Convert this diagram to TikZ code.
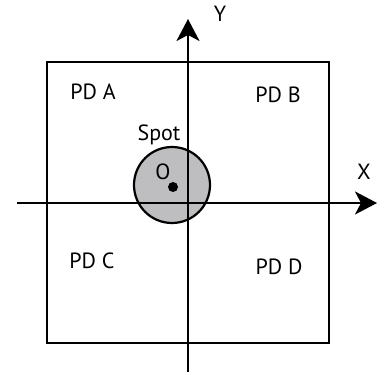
\documentclass[tikz,border=0pt]{standalone}
\usepackage{fontspec}
\setmainfont{PT Sans}
\usetikzlibrary{arrows.meta}
\begin{document}
\begin{tikzpicture}[x=1pt,y=-1pt,
  lbl/.style={font=\fontsize{22}{26}\selectfont, inner sep=0pt},
  axis/.style={line width=2.2pt, -{Stealth[length=22pt,width=23pt,inset=6pt]}},
  frame/.style={draw, line width=2.2pt}]
\useasboundingbox (0,0) rectangle (384,374);
% spot
\node (spot) [circle, draw, line width=2.2pt, fill={rgb,255:red,190;green,190;blue,193}, minimum size=76pt, inner sep=0pt] at (172,185) {};
\node (dot) [circle, fill=black, minimum size=10pt, inner sep=0pt] at (173,187) {};
% frame
\draw[frame] (47,62) rectangle (329,343);
% axes
\coordinate (xs) at (17,203);
\coordinate (xe) at (377,203);
\coordinate (ys) at (188,372);
\coordinate (ye) at (188,19);
\draw[axis] (xs) -- (xe);
\draw[axis] (ys) -- (ye);
% labels
\node[lbl] (Y) at (220,14) {Y};
\node[lbl] (X) at (364,172) {X};
\node[lbl] (pda) at (93,92) {PD A};
\node[lbl] (pdb) at (278,95) {PD B};
\node[lbl] (pdc) at (92,261) {PD C};
\node[lbl] (pdd) at (279,267) {PD D};
\node[lbl] (spotlbl) at (159,135) {Spot};
\node[lbl] (O) at (163,172) {O};
\end{tikzpicture}
\end{document}
